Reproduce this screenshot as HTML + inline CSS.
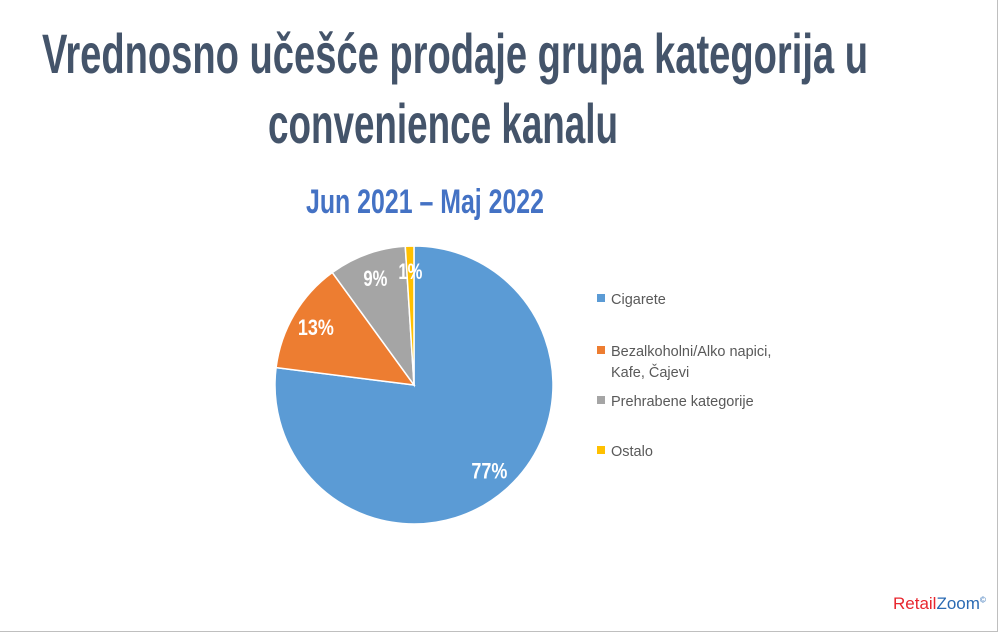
<!DOCTYPE html>
<html><head><meta charset="utf-8"><style>
body{margin:0;background:#fff;}
#wrap{position:relative;width:1000px;height:634px;overflow:hidden;font-family:"Liberation Sans",sans-serif;}
.border{position:absolute;left:0;top:0;width:997px;height:631px;border-right:1px solid #bfbfbf;border-bottom:1px solid #bfbfbf;}
.t{position:absolute;white-space:nowrap;}
</style></head><body>
<div id="wrap">
<div class="border"></div>
<svg id="pie" width="1000" height="634" style="position:absolute;left:0;top:0" font-family="Liberation Sans, sans-serif">
<text x="42" y="73" font-size="56" font-weight="bold" fill="#44546A" textLength="826" lengthAdjust="spacingAndGlyphs">Vrednosno učešće prodaje grupa kategorija u</text>
<text x="268" y="143" font-size="56" font-weight="bold" fill="#44546A" textLength="350" lengthAdjust="spacingAndGlyphs">convenience kanalu</text>
<text x="306" y="213" font-size="34" font-weight="bold" fill="#4472C4" textLength="238" lengthAdjust="spacingAndGlyphs">Jun 2021 – Maj 2022</text>
</svg>
<div class="t" style="left:893px;top:594px;font-size:17px"><span style="color:#e8262e">Retail</span><span style="color:#2a6ab3">Zoom</span><sup style="color:#2a6ab3;font-size:8px">©</sup></div>
</div>
<script>
const categories=["Cigarete","Bezalkoholni/Alko napici, Kafe, Čajevi","Prehrabene kategorije","Ostalo"];
const values=[77,13,9,1];
const labels=["77%","13%","9%","1%"];
const colors=["#5B9BD5","#ED7D31","#A5A5A5","#FFC000"];
const svg=document.getElementById('pie');
const NS="http://www.w3.org/2000/svg";
const cx=414,cy=385,r=139;
const total=values.reduce((a,b)=>a+b,0);
let a0=0;
values.forEach((v,i)=>{
  const a1=a0+v/total*2*Math.PI;
  const p=(a)=>[cx+r*Math.sin(a),cy-r*Math.cos(a)];
  const [x0,y0]=p(a0),[x1,y1]=p(a1);
  const path=document.createElementNS(NS,'path');
  path.setAttribute('d',`M${cx},${cy}L${x0},${y0}A${r},${r} 0 ${(a1-a0)>Math.PI?1:0} 1 ${x1},${y1}Z`);
  path.setAttribute('fill',colors[i]);path.setAttribute('stroke','#fff');path.setAttribute('stroke-width','1.5');
  
  
  svg.appendChild(path);
  a0=a1;
});
a0=0;
values.forEach((v,i)=>{
  const a1=a0+v/total*2*Math.PI;
  const am=(a0+a1)/2, lr=r*0.82;
  const t=document.createElementNS(NS,'text');
  t.setAttribute('x',cx+lr*Math.sin(am));t.setAttribute('y',cy-lr*Math.cos(am)+8);
  t.setAttribute('text-anchor','middle');t.setAttribute('fill','#fff');
  t.setAttribute('font-weight','bold');t.setAttribute('font-size','22');
  t.setAttribute('textLength',labels[i].length*12);
  t.setAttribute('lengthAdjust','spacingAndGlyphs');
  t.textContent=labels[i];
  
  
  svg.appendChild(t);
  a0=a1;
});
const legY=[[299],[351,372],[401],[451]];
const legText=[["Cigarete"],["Bezalkoholni/Alko napici,","Kafe, Čajevi"],["Prehrabene kategorije"],["Ostalo"]];
categories.forEach((c,i)=>{
  const g=document.createElementNS(NS,'g');
  
  
  const sq=document.createElementNS(NS,'rect');
  sq.setAttribute('x',597);sq.setAttribute('y',legY[i][0]-5);sq.setAttribute('width',8);sq.setAttribute('height',8);sq.setAttribute('fill',colors[i]);
  g.appendChild(sq);
  legText[i].forEach((s,j)=>{
    const t=document.createElementNS(NS,'text');
    t.setAttribute('x',611);t.setAttribute('y',legY[i][j]+5);
    t.setAttribute('fill','#595959');t.setAttribute('font-size','14.5');
    t.textContent=s;g.appendChild(t);
  });
  svg.appendChild(g);
});
</script>
</body></html>
